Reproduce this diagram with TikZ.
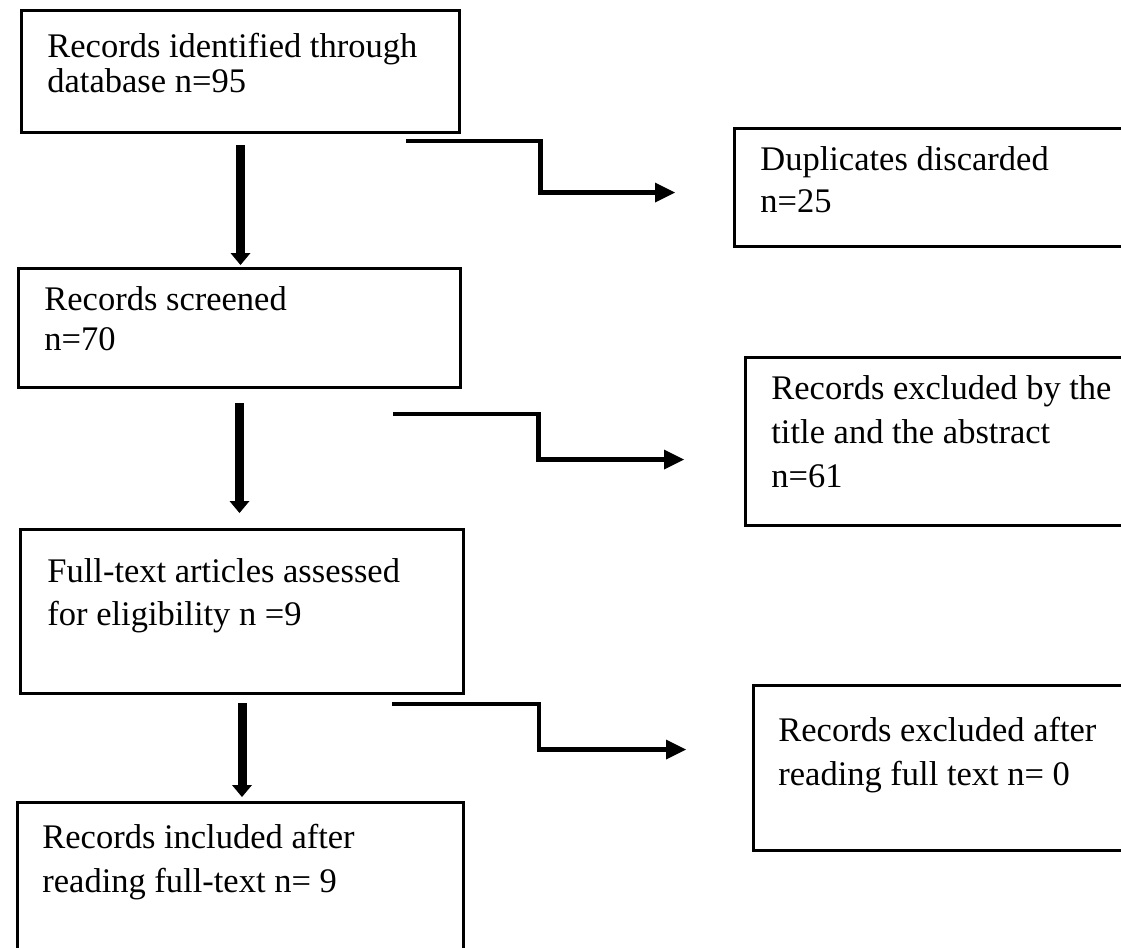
\documentclass[tikz,border=0pt]{standalone}
\usepackage{fontspec}
\setmainfont{Liberation Serif}
\usetikzlibrary{arrows.meta,calc}
\tikzset{
	box/.style={draw, line width=1.5pt, inner sep=0pt, anchor=north west},
	txt/.style={anchor=north west, inner sep=0pt, align=left, font=\fontsize{17.25}{22}\selectfont},
	vflow/.style={line width=4.5pt, -{Triangle[length=6pt,width=10pt,line width=0pt]}},
	eflow/.style={line width=2.25pt, -{Triangle[length=10pt,width=10pt,line width=0pt]}},
}
\begin{document}
\begin{tikzpicture}[x=0.5pt, y=-0.5pt, line join=miter]
				\useasboundingbox (0,0) rectangle (1121,948);
				\node[box, minimum width=219pt, minimum height=61pt] (ident) at (20,9) {};
				\node[box, minimum width=221pt, minimum height=59.5pt] (screen) at (17,267) {};
				\node[box, minimum width=221.5pt, minimum height=82pt] (fulltext) at (19,528) {};
				\node[box, minimum width=223pt, minimum height=85pt] (incl) at (16,801) {};
				\node[box, minimum width=200pt, minimum height=59pt] (dup) at (733,127) {};
				\node[box, minimum width=195pt, minimum height=84pt] (excl) at (744,356) {};
				\node[box, minimum width=190pt, minimum height=82.5pt] (exclft) at (752,684) {};
				\node[txt, font=\fontsize{17.25}{17.5}\selectfont] (ident-t) at ([shift={(27,24)}]ident.north west) {Records identified through\\database n=95};
				\node[txt, font=\fontsize{17.25}{20}\selectfont] (screen-t) at ([shift={(27,19)}]screen.north west) {Records screened\\n=70};
				\node[txt, font=\fontsize{17.25}{21.5}\selectfont] (fulltext-t) at ([shift={(28,30)}]fulltext.north west) {Full-text articles assessed\\for eligibility n =9};
				\node[txt] (incl-t) at ([shift={(26,23)}]incl.north west) {Records included after\\reading full-text n= 9};
				\node[txt, font=\fontsize{17.25}{21}\selectfont] (dup-t) at ([shift={(27,19)}]dup.north west) {Duplicates discarded\\n=25};
				\node[txt, font=\fontsize{17.25}{22}\selectfont] (excl-t) at ([shift={(27,19)}]excl.north west) {Records excluded by the\\title and the abstract\\n=61};
				\node[txt] (exclft-t) at ([shift={(26,33)}]exclft.north west) {Records excluded after\\reading full text n= 0};
				\draw[vflow] ([yshift=-5.5pt]ident.south) -- ([yshift=1pt]ident.south |- screen.north);
				\draw[vflow] ([yshift=-7pt]screen.south) -- ([yshift=7.5pt]screen.south |- fulltext.north);
				\draw[vflow] ([yshift=-4pt]fulltext.south) -- ([yshift=2pt]fulltext.south |- incl.north);
				\coordinate (e1a) at ([xshift=-27.5pt,yshift=-3.5pt]ident.south east);
				\coordinate (e1b) at ([xshift=-29pt,yshift=-2.5pt]dup.west);
				\coordinate (e2a) at ([xshift=-34.5pt,yshift=-12.5pt]screen.south east);
				\coordinate (e2b) at ([xshift=-30pt,yshift=-9pt]excl.west);
				\coordinate (e3a) at ([xshift=-36.5pt,yshift=-4.5pt]fulltext.south east);
				\coordinate (e3b) at ([xshift=-33pt,yshift=9.25pt]exclft.west);
				\draw[eflow] (e1a) -| ($(e1a)!.5!(e1b)$) |- (e1b);
				\draw[eflow] (e2a) -| ($(e2a)!.5!(e2b)$) |- (e2b);
				\draw[eflow] (e3a) -| ($(e3a)!.5!(e3b)$) |- (e3b);
\end{tikzpicture}
\end{document}
